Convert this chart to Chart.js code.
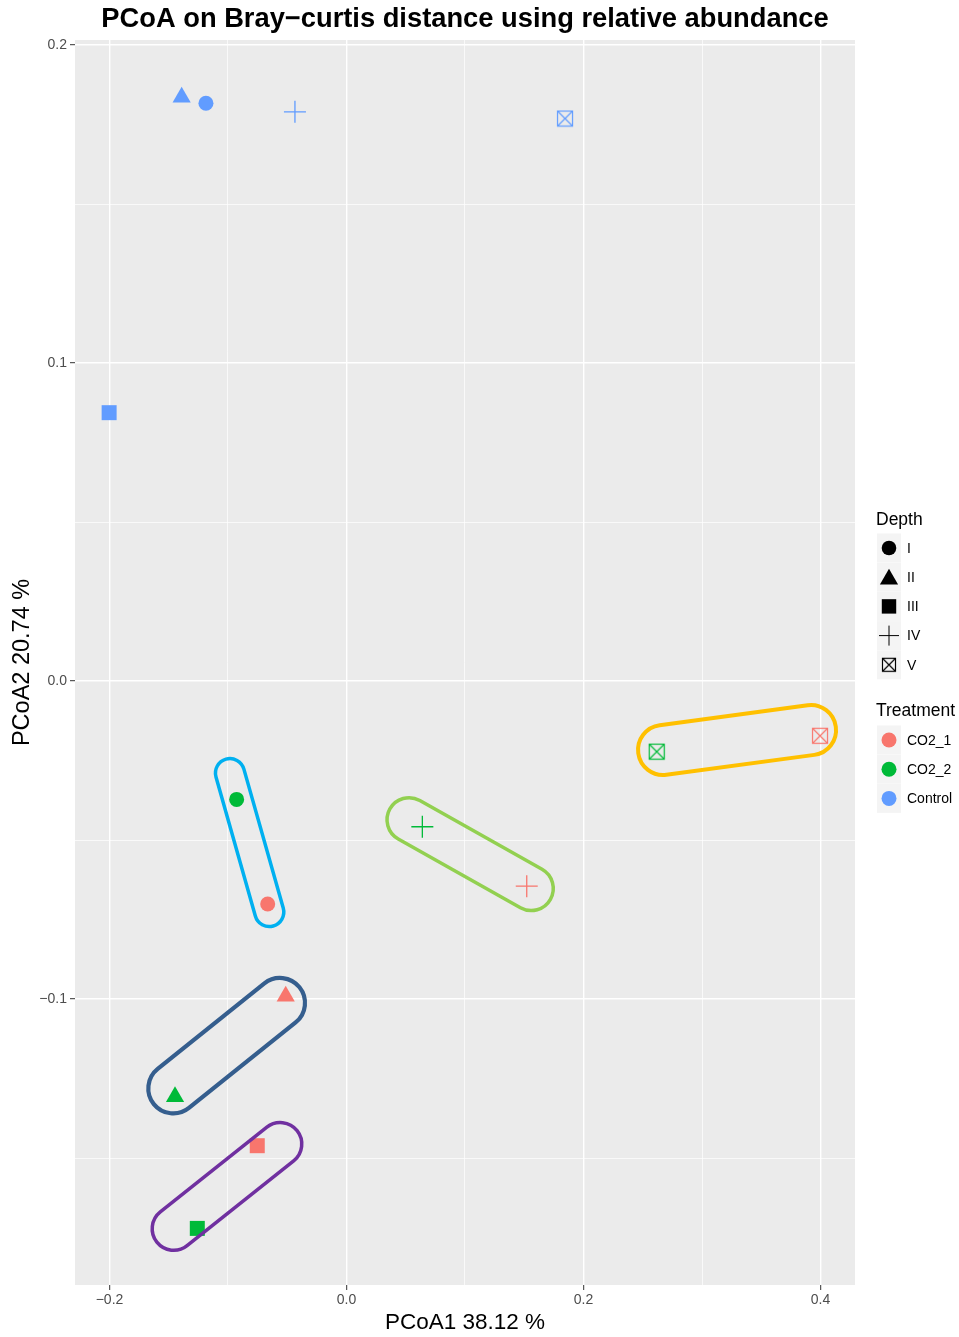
<!DOCTYPE html>
<html>
<head>
<meta charset="utf-8">
<script src="https://cdn.jsdelivr.net/npm/chart.js@4.4.1/dist/chart.umd.min.js"></script>
<style>
  html, body { margin: 0; padding: 0; background: #ffffff; }
  #wrap { width: 959px; height: 1337px; }
</style>
</head>
<body>
<div id="wrap"><canvas id="c" width="959" height="1337"></canvas></div>
<script>
// ---- data -------------------------------------------------------------
const depthLevels = ['I', 'II', 'III', 'IV', 'V'];
const treatmentLevels = ['CO2_1', 'CO2_2', 'Control'];

// PCoA coordinates per treatment, in depth order I..V
const pcoa1_CO2_1   = [-0.0665, -0.0513, -0.0753, 0.1521, 0.3996];
const pcoa2_CO2_1   = [-0.0701, -0.0991, -0.1461, -0.0645, -0.0172];
const pcoa1_CO2_2   = [-0.0927, -0.1447, -0.1259, 0.0640, 0.2618];
const pcoa2_CO2_2   = [-0.0372, -0.1307, -0.1721, -0.0458, -0.0222];
const pcoa1_Control = [-0.1186, -0.1391, -0.2003, -0.0435, 0.1844];
const pcoa2_Control = [0.1817, 0.1836, 0.0844, 0.1790, 0.1769];

const xTickValues = [-0.2, 0.0, 0.2, 0.4];
const xTickLabels = ['\u22120.2', '0.0', '0.2', '0.4'];
const yTickValues = [-0.1, 0.0, 0.1, 0.2];
const yTickLabels = ['\u22120.1', '0.0', '0.1', '0.2'];

// ---- styling ----------------------------------------------------------
const FONT = "'Liberation Sans', Arial, Helvetica, sans-serif";
const treatmentColors = { CO2_1: '#F8766D', CO2_2: '#00BA38', Control: '#619CFF' };
const depthShapes = ['circle', 'triangle', 'rect', 'cross', 'boxtimes'];
const depthRadius = [7.5, 10.5, 10.6, 11, 9];
const depthBorder = [0, 0, 0, 1.3, 0];

// square with an X inside (ggplot shape 7), rendered once per colour
function boxTimes(color, size, lw) {
  const cv = document.createElement('canvas');
  cv.width = size; cv.height = size;
  const g = cv.getContext('2d');
  g.strokeStyle = color;
  g.lineWidth = lw;
  const a = 1.5, b = size - 1.5;
  g.strokeRect(a, a, b - a, b - a);
  g.beginPath();
  g.moveTo(a, a); g.lineTo(b, b);
  g.moveTo(b, a); g.lineTo(a, b);
  g.stroke();
  return cv;
}
const boxImgs = {};
treatmentLevels.forEach(t => { boxImgs[t] = boxTimes(treatmentColors[t], 18, 1.2); });
const legendBoxImg = boxTimes('#000000', 16, 1.2);

const coords = {
  CO2_1: [pcoa1_CO2_1, pcoa2_CO2_1],
  CO2_2: [pcoa1_CO2_2, pcoa2_CO2_2],
  Control: [pcoa1_Control, pcoa2_Control]
};

const datasets = treatmentLevels.map(t => {
  const [xs, ys] = coords[t];
  return {
    label: t,
    data: xs.map((v, i) => ({ x: v, y: ys[i] })),
    showLine: false,
    pointStyle: depthShapes.map(s => s === 'boxtimes' ? boxImgs[t] : s),
    pointRadius: depthRadius,
    pointBorderWidth: depthBorder,
    pointBackgroundColor: treatmentColors[t],
    pointBorderColor: treatmentColors[t]
  };
});

// hand-drawn style groupings: each capsule joins two samples
const capsules = [
  { a: ['CO2_2', 0], b: ['CO2_1', 0], offA: [-6.7, -26.3], offB: [1.6, 8],    r: 14.5, lw: 3.5, color: '#00B0F0' },
  { a: ['CO2_2', 3], b: ['CO2_1', 3], offA: [-13.3, -7],   offB: [4.5, 2.3],  r: 22,   lw: 3.5, color: '#92D050' },
  { a: ['CO2_2', 4], b: ['CO2_1', 4], offA: [6.3, -1.7],   offB: [-9, -5.7],  r: 25,   lw: 4,   color: '#FFC000' },
  { a: ['CO2_2', 1], b: ['CO2_1', 1], offA: [-1.7, -8.3],  offB: [-5.7, 6.7], r: 25,   lw: 4.2, color: '#355E8E' },
  { a: ['CO2_2', 2], b: ['CO2_1', 2], offA: [-23.6, 0.4],  offB: [23, -1.7],  r: 21.5, lw: 3.5, color: '#7030A0' }
];

function isTick(list, v) { return list.some(t => Math.abs(t - v) < 1e-9); }
function tickLabel(values, labels, v) {
  const i = values.findIndex(t => Math.abs(t - v) < 1e-9);
  return i >= 0 ? labels[i] : '';
}

const panelBackground = {
  id: 'panelBackground',
  beforeDraw(chart) {
    const { ctx, chartArea: a } = chart;
    ctx.save();
    ctx.fillStyle = '#EBEBEB';
    ctx.fillRect(a.left, a.top, a.right - a.left, a.bottom - a.top);
    ctx.restore();
  }
};

const capsulePlugin = {
  id: 'capsules',
  afterDatasetsDraw(chart) {
    const { ctx } = chart;
    const sx = chart.scales.x, sy = chart.scales.y;
    const px = (ref, off) => {
      const [xs, ys] = coords[ref[0]];
      return [sx.getPixelForValue(xs[ref[1]]) + off[0], sy.getPixelForValue(ys[ref[1]]) + off[1]];
    };
    ctx.save();
    capsules.forEach(c => {
      const [x1, y1] = px(c.a, c.offA);
      const [x2, y2] = px(c.b, c.offB);
      const ang = Math.atan2(y2 - y1, x2 - x1);
      ctx.beginPath();
      ctx.arc(x2, y2, c.r, ang - Math.PI / 2, ang + Math.PI / 2);
      ctx.arc(x1, y1, c.r, ang + Math.PI / 2, ang + 3 * Math.PI / 2);
      ctx.closePath();
      ctx.strokeStyle = c.color;
      ctx.lineWidth = c.lw;
      ctx.stroke();
    });
    ctx.restore();
  }
};

const legendPlugin = {
  id: 'ggLegend',
  afterDraw(chart) {
    const { ctx } = chart;
    const keyX = 877, keyW = 24, keyH = 29, symX = 889, textX = 907;
    ctx.save();
    ctx.textBaseline = 'middle';
    ctx.textAlign = 'left';

    // Depth (shape) legend
    ctx.fillStyle = '#000';
    ctx.font = '17.5px ' + FONT;
    ctx.fillText('Depth', 876, 520);
    depthLevels.forEach((d, i) => {
      const cy = 548 + i * 29.2;
      ctx.fillStyle = '#F4F4F4';
      ctx.fillRect(keyX, cy - keyH / 2, keyW, keyH);
      if (depthShapes[i] === 'boxtimes') {
        ctx.drawImage(legendBoxImg, symX - 8, cy - 8);
      } else {
        ctx.fillStyle = '#000';
        ctx.strokeStyle = '#000';
        const rad = [7.3, 10.5, 10.2, 10, 8][i];
        Chart.helpers.drawPoint(ctx, {
          pointStyle: depthShapes[i], radius: rad, rotation: 0,
          borderWidth: i === 3 ? 1.4 : 0
        }, symX, cy + (i === 1 ? 2 : 0));
      }
      ctx.fillStyle = '#000';
      ctx.font = '14px ' + FONT;
      ctx.fillText(d, textX, cy + 1);
    });

    // Treatment (colour) legend
    ctx.font = '17.5px ' + FONT;
    ctx.fillStyle = '#000';
    ctx.fillText('Treatment', 876, 711);
    treatmentLevels.forEach((t, i) => {
      const cy = 740 + i * 29.2;
      ctx.fillStyle = '#F4F4F4';
      ctx.fillRect(keyX, cy - keyH / 2, keyW, keyH);
      ctx.fillStyle = treatmentColors[t];
      ctx.beginPath();
      ctx.arc(symX, cy, 7.5, 0, Math.PI * 2);
      ctx.fill();
      ctx.fillStyle = '#000';
      ctx.font = '14px ' + FONT;
      ctx.fillText(t, textX, cy + 1);
    });
    ctx.restore();
  }
};

new Chart(document.getElementById('c'), {
  type: 'scatter',
  data: { datasets },
  options: {
    responsive: false,
    animation: false,
    events: [],
    layout: { padding: { left: 0, right: 104, top: 0, bottom: 0 } },
    plugins: {
      legend: { display: false },
      tooltip: { enabled: false },
      title: {
        display: true,
        fullSize: false,
        text: 'PCoA on Bray\u2212curtis distance using relative abundance',
        color: '#000',
        font: { family: FONT, size: 27.3, weight: 'bold', lineHeight: 1.2 },
        padding: { top: 3, bottom: 4.2 }
      }
    },
    scales: {
      x: {
        type: 'linear',
        min: -0.2291,
        max: 0.4291,
        afterFit(s) { s.height = 52; },
        border: { display: false },
        grid: {
          color: '#FFFFFF',
          lineWidth: c => isTick(xTickValues, c.tick.value) ? 1.4 : 0.7,
          tickLength: 5,
          tickWidth: 1,
          tickColor: c => isTick(xTickValues, c.tick.value) ? '#333333' : 'rgba(0,0,0,0)'
        },
        ticks: {
          stepSize: 0.1,
          includeBounds: false,
          autoSkip: false,
          maxRotation: 0,
          padding: 2,
          color: '#4D4D4D',
          font: { family: FONT, size: 14 },
          callback: v => tickLabel(xTickValues, xTickLabels, v)
        },
        title: {
          display: true,
          text: 'PCoA1 38.12 %',
          color: '#000',
          font: { family: FONT, size: 22.5, lineHeight: 1.2 },
          padding: { top: 1, bottom: 1 }
        }
      },
      y: {
        type: 'linear',
        min: -0.1899,
        max: 0.2016,
        afterFit(s) { s.width = 75; },
        border: { display: false },
        grid: {
          color: '#FFFFFF',
          lineWidth: c => isTick(yTickValues, c.tick.value) ? 1.4 : 0.7,
          tickLength: 5,
          tickWidth: 1,
          tickColor: c => isTick(yTickValues, c.tick.value) ? '#333333' : 'rgba(0,0,0,0)'
        },
        ticks: {
          stepSize: 0.05,
          includeBounds: false,
          autoSkip: false,
          padding: 3,
          color: '#4D4D4D',
          font: { family: FONT, size: 14 },
          callback: v => tickLabel(yTickValues, yTickLabels, v)
        },
        title: {
          display: true,
          text: 'PCoA2 20.74 %',
          color: '#000',
          font: { family: FONT, size: 23.5, lineHeight: 1.2 },
          padding: { top: 8, bottom: 8 }
        }
      }
    }
  },
  plugins: [panelBackground, capsulePlugin, legendPlugin]
});
</script>
</body>
</html>
